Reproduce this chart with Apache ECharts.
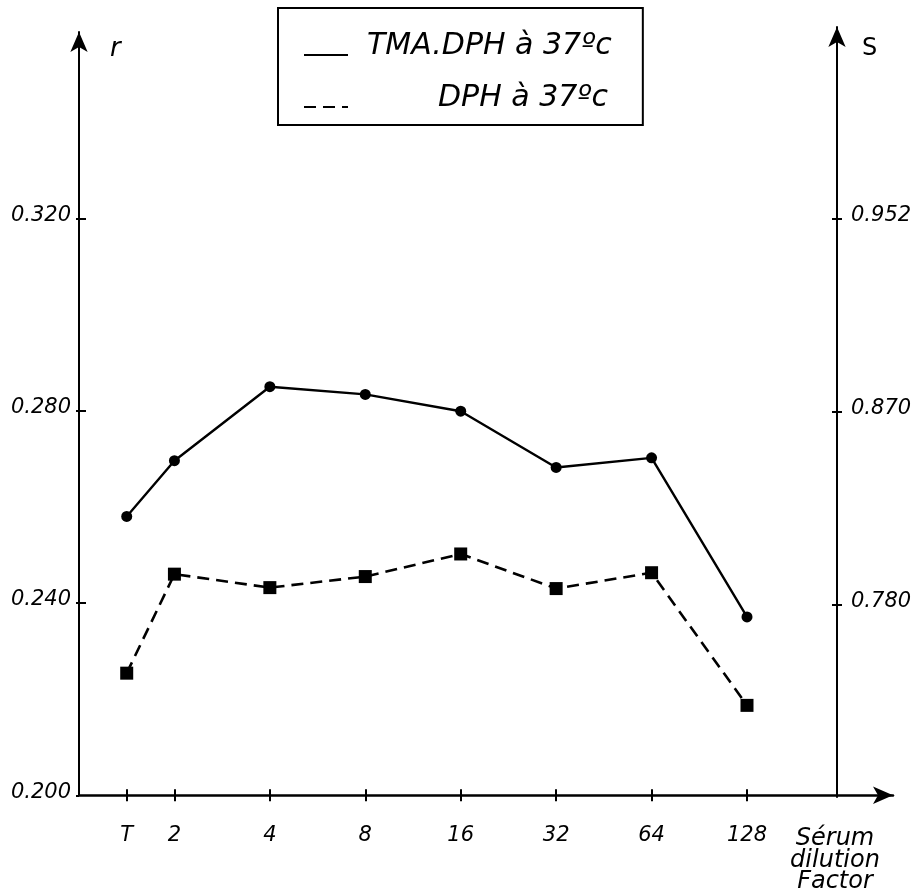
<!DOCTYPE html>
<html>
<head>
<meta charset="utf-8">
<script src="https://cdn.jsdelivr.net/npm/echarts@6/dist/echarts.min.js"></script>
<style>
  html, body { margin: 0; padding: 0; background: #fff; }
  #chart { width: 920px; height: 894px; }
</style>
</head>
<body>
<div id="chart"></div>
<script>
// Dilution steps on a log2 scale; the undiluted control T sits half a step before 2.
const dilutionSteps = [0.5, 1, 2, 3, 4, 5, 6, 7];
const dilutionLabels = ['T', '2', '4', '8', '16', '32', '64', '128'];

// Fluorescence anisotropy r for each probe
const tmaDphR = [0.2580, 0.2696, 0.2850, 0.2834, 0.2799, 0.2682, 0.2702, 0.2371];
const dphR = [0.2254, 0.2460, 0.2432, 0.2455, 0.2502, 0.2430, 0.2463, 0.2187];

// Left axis ticks (r) and the matching order parameter S on the right axis
const rTicks = [0.200, 0.240, 0.280, 0.320];
const sTickR = [0.240, 0.280, 0.320];
const sTickLabels = ['0.780', '0.870', '0.952'];

const seriesNames = ['TMA.DPH à 37ºc', 'DPH à 37ºc'];

// Both panels share the r scale (same pixels per unit); the S axis stands a little higher.
const R_MIN = 0.2;
const R_MAX_LEFT = 0.3588;
const R_MAX_RIGHT = 0.3598;
const X_MAX = 8.53;
const FONT = '"DejaVu Sans", sans-serif';
const INK = '#000';

const labelStyle = { fontFamily: FONT, fontSize: 21, fontStyle: 'italic', color: INK };
const tickLine = { color: INK, width: 2 };
const arrowLine = (w) => ({
  show: true, onZero: false,
  symbol: ['none', 'arrow'], symbolSize: [13, 20],
  lineStyle: { color: INK, width: w }
});
const hiddenLine = { show: false, onZero: false };

const chart = echarts.init(document.getElementById('chart'), null, { renderer: 'canvas' });

const toPairs = (ys) => dilutionSteps.map((x, i) => [x, ys[i]]);

chart.setOption({
  animation: false,
  backgroundColor: '#fff',
  grid: [
    { left: 79, right: 27, top: 32, bottom: 97, containLabel: false },
    { left: 79, right: 83, top: 27, bottom: 97, containLabel: false }
  ],
  legend: {
    orient: 'vertical',
    left: 278,
    top: 8,
    padding: [23, 31, 12, 25],
    itemWidth: 44,
    itemHeight: 14,
    itemGap: 22,
    borderColor: INK,
    borderWidth: 2,
    selectedMode: false,
    itemStyle: { opacity: 0 },
    lineStyle: { width: 2 },
    data: seriesNames,
    formatter: (name) => (name === seriesNames[0] ? '{a|' + name + '}' : '{b|' + name + '}'),
    textStyle: {
      fontFamily: FONT, fontSize: 30, fontStyle: 'italic', color: INK,
      rich: {
        a: { fontFamily: FONT, fontSize: 30, fontStyle: 'italic', color: INK, width: 241, padding: [0, 0, 18, 14] },
        b: { fontFamily: FONT, fontSize: 30, fontStyle: 'italic', color: INK, width: 255, align: 'right', padding: [0, 0, 18, 0] }
      }
    }
  },
  xAxis: [
    {
      type: 'value', gridIndex: 0, position: 'bottom', min: 0, max: X_MAX,
      axisLine: arrowLine(2.5),
      axisTick: { show: true, customValues: dilutionSteps, length: 6, lineStyle: tickLine },
      axisLabel: Object.assign({
        customValues: dilutionSteps,
        formatter: (v) => dilutionLabels[dilutionSteps.indexOf(v)],
        margin: 30
      }, labelStyle),
      splitLine: { show: false },
      name: 'Sérum\ndilution\nFactor',
      nameLocation: 'end',
      nameGap: -58,
      nameTextStyle: {
        fontFamily: FONT, fontSize: 24, fontStyle: 'italic', color: INK,
        align: 'center', verticalAlign: 'top', lineHeight: 21.5, padding: [33, 0, 0, 0]
      }
    },
    {
      type: 'value', gridIndex: 0, position: 'bottom', min: 0, max: X_MAX,
      axisLine: hiddenLine,
      axisTick: { show: true, inside: true, customValues: dilutionSteps, length: 6, lineStyle: tickLine },
      axisLabel: { show: false },
      splitLine: { show: false }
    },
    {
      type: 'value', gridIndex: 1, position: 'bottom', min: 0, max: X_MAX, show: false,
      axisLine: hiddenLine
    }
  ],
  yAxis: [
    {
      type: 'value', gridIndex: 0, position: 'left', min: R_MIN, max: R_MAX_LEFT,
      axisLine: arrowLine(2),
      axisTick: { show: true, customValues: rTicks, length: 3, lineStyle: tickLine },
      axisLabel: Object.assign({
        customValues: rTicks,
        formatter: (v) => v.toFixed(3),
        margin: 8,
        verticalAlign: 'bottom',
        lineHeight: 6
      }, labelStyle),
      splitLine: { show: false },
      name: 'r',
      nameLocation: 'end',
      nameGap: -17,
      nameTextStyle: {
        fontFamily: FONT, fontSize: 26, fontStyle: 'italic', color: INK,
        align: 'left', verticalAlign: 'middle', padding: [0, 0, 0, 31]
      }
    },
    {
      type: 'value', gridIndex: 0, position: 'left', min: R_MIN, max: R_MAX_LEFT,
      axisLine: hiddenLine,
      axisTick: { show: true, inside: true, customValues: rTicks.slice(1), length: 7, lineStyle: tickLine },
      axisLabel: { show: false },
      splitLine: { show: false }
    },
    {
      type: 'value', gridIndex: 1, position: 'right', min: R_MIN, max: R_MAX_RIGHT,
      axisLine: arrowLine(2),
      axisTick: { show: true, customValues: sTickR, length: 5, lineStyle: tickLine },
      axisLabel: Object.assign({
        customValues: sTickR,
        formatter: (v) => sTickLabels[sTickR.indexOf(v)],
        margin: 14,
        verticalAlign: 'bottom',
        lineHeight: 6
      }, labelStyle),
      splitLine: { show: false },
      name: 'S',
      nameLocation: 'end',
      nameGap: -22,
      nameTextStyle: {
        fontFamily: FONT, fontSize: 24, color: INK,
        align: 'left', verticalAlign: 'middle', padding: [0, 0, 0, 25]
      }
    },
    {
      type: 'value', gridIndex: 1, position: 'right', min: R_MIN, max: R_MAX_RIGHT,
      axisLine: hiddenLine,
      axisTick: { show: true, inside: true, customValues: sTickR, length: 5, lineStyle: tickLine },
      axisLabel: { show: false },
      splitLine: { show: false }
    }
  ],
  series: [
    {
      name: seriesNames[0],
      type: 'line',
      xAxisIndex: 0, yAxisIndex: 0,
      data: toPairs(tmaDphR),
      symbol: 'circle',
      symbolSize: 11,
      itemStyle: { color: INK },
      lineStyle: { color: INK, width: 2.4, type: 'solid' }
    },
    {
      name: seriesNames[1],
      type: 'line',
      xAxisIndex: 0, yAxisIndex: 0,
      data: toPairs(dphR),
      symbol: 'rect',
      symbolSize: 13,
      itemStyle: { color: INK },
      lineStyle: { color: INK, width: 2.6, type: [12, 7] }
    }
  ]
});
</script>
</body>
</html>
